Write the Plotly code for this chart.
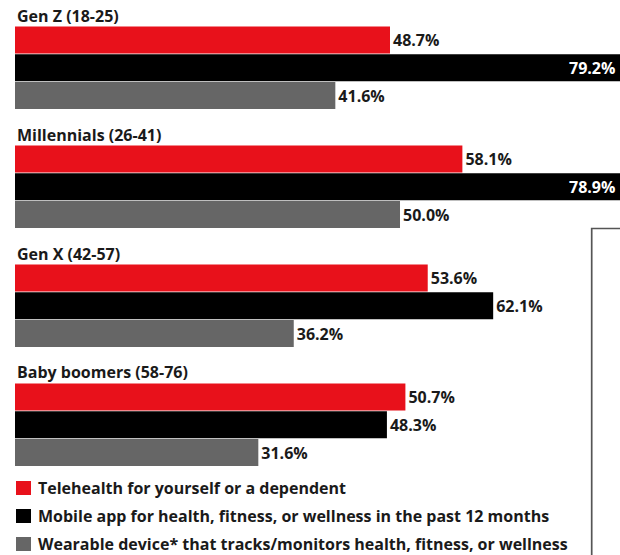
import plotly.graph_objects as go

# Share of each generation using digital health tools (%)
generations = ["Gen Z (18-25)", "Millennials (26-41)", "Gen X (42-57)", "Baby boomers (58-76)"]
series_names = [
    "Telehealth for yourself or a dependent",
    "Mobile app for health, fitness, or wellness in the past 12 months",
    "Wearable device* that tracks/monitors health, fitness, or wellness",
]
telehealth = [48.7, 58.1, 53.6, 50.7]
mobile_app = [79.2, 78.9, 62.1, 48.3]
wearable = [41.6, 50.0, 36.2, 31.6]

series_values = [telehealth, mobile_app, wearable]
series_colors = ["#E8111B", "#000000", "#666666"]

W, H = 620, 555
FONT = "Open Sans"
TEXT_COLOR = "#1A1A1A"
GROUP_STEP = 4.28      # vertical distance between generation blocks (in bar slots)
X_MAX = 78.57          # visible end of the value axis
Y_TOP, Y_BOTTOM = -1.439, 18.525
PLOT_LEFT = 15         # px where bars begin


def px_x(p):
    return p / W


def px_y(p):
    return 1 - p / H


fig = go.Figure()

for k, (name, vals, color) in enumerate(zip(series_names, series_values, series_colors)):
    ys = [g * GROUP_STEP + k for g in range(len(generations))]
    clipped = [v > X_MAX for v in vals]
    fig.add_trace(go.Bar(
        x=vals,
        y=ys,
        orientation="h",
        name=name,
        marker=dict(color=color, line=dict(width=0)),
        width=0.97,
        text=["" if c else f"{v:.1f}%" for v, c in zip(vals, clipped)],
        textposition="outside",
        cliponaxis=False,
        textfont=dict(family=FONT, size=16, weight=700, color=TEXT_COLOR),
        hoverinfo="skip",
        showlegend=False,
    ))
    # bars running past the visible edge carry their value inside, in white
    for v, y, c in zip(vals, ys, clipped):
        if c:
            fig.add_annotation(
                x=min(v, X_MAX), y=y, xref="x", yref="y",
                text=f"{v:.1f}%", showarrow=False,
                xanchor="right", yanchor="middle", xshift=-3,
                font=dict(family=FONT, size=16, weight=700, color="#FFFFFF"),
            )

# Generation headings above each block
for g, label in enumerate(generations):
    fig.add_annotation(
        x=0, y=g * GROUP_STEP - 0.88, xref="x", yref="y",
        text=label, showarrow=False, xanchor="left", yanchor="middle",
        xshift=0,
        font=dict(family=FONT, size=16, weight=700, color=TEXT_COLOR),
    )

# Legend: colour keys with their descriptions
legend_rows = [488, 516, 544]
for name, color, yc in zip(series_names, series_colors, legend_rows):
    fig.add_shape(
        type="rect", xref="paper", yref="paper",
        x0=px_x(16), x1=px_x(31), y0=px_y(yc + 7), y1=px_y(yc - 7),
        fillcolor=color, line=dict(width=0),
    )
    fig.add_annotation(
        x=px_x(36), y=px_y(yc), xref="paper", yref="paper",
        text=name, showarrow=False, xanchor="left", yanchor="middle",
        font=dict(family=FONT, size=16, weight=700, color=TEXT_COLOR),
    )

# Frame outline at the lower right
fig.add_shape(
    type="rect", xref="paper", yref="paper",
    x0=px_x(591.7), x1=px_x(640), y0=px_y(580), y1=px_y(228.5),
    line=dict(color="#555555", width=1.7), fillcolor="rgba(0,0,0,0)",
)

fig.update_layout(
    width=W, height=H,
    margin=dict(l=0, r=0, t=0, b=0),
    plot_bgcolor="white", paper_bgcolor="white",
    barmode="overlay",
    xaxis=dict(range=[0, X_MAX], domain=[PLOT_LEFT / W, 1], visible=False, fixedrange=True),
    yaxis=dict(range=[Y_BOTTOM, Y_TOP], visible=False, fixedrange=True),
    showlegend=False,
    font=dict(family=FONT),
)

fig.write_html("out.html")
